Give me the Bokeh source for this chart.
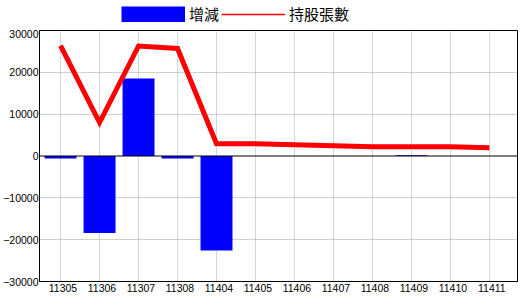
from bokeh.plotting import figure
from bokeh.layouts import column
from bokeh.models import ColumnDataSource, FixedTicker, Legend, LegendItem, Span, Range1d
from bokeh.embed import file_html
from bokeh.resources import INLINE

months = ["11305", "11306", "11307", "11308", "11404", "11405",
          "11406", "11407", "11408", "11409", "11410", "11411"]
change = [-600, -18400, 18500, -600, -22600, 0, 0, 0, 0, 150, 0, 0]
holding = [26400, 8000, 26300, 25700, 2950, 2900, 2680, 2440, 2200, 2200, 2200, 1960]
y_ticks = [-30000, -20000, -10000, 0, 10000, 20000, 30000]
series_names = ["增減", "持股張數"]

BAR_COLOR = "#0000ff"
LINE_COLOR = "#ff0000"

x = list(range(len(months)))
src = ColumnDataSource(dict(x=x, change=change, holding=holding))

# ---- legend strip (its own small figure above the chart) ----
# its ranges are far away from the data so its renderers draw nothing visible
lg = figure(width=520, height=29, output_backend="svg", toolbar_location=None,
            x_axis_type=None, y_axis_type=None,
            x_range=Range1d(1000, 1001), y_range=Range1d(1e6, 1e6 + 1),
            min_border_left=0, min_border_right=0, min_border_top=0, min_border_bottom=0)
lg.outline_line_color = None
lg.xgrid.visible = False
lg.ygrid.visible = False
# a 16px-thick butt-capped line gives a solid 64x16 swatch for the bar series
lg_bar = lg.line(x="x", y="change", source=src, line_color=BAR_COLOR,
                 line_width=16, line_cap="butt")
lg_line = lg.line(x="x", y="holding", source=src, line_color=LINE_COLOR, line_width=1.5)
legend = Legend(items=[LegendItem(label=series_names[0], renderers=[lg_bar]),
                       LegendItem(label=series_names[1], renderers=[lg_line])],
                orientation="horizontal", location=(82, 5),
                glyph_width=64, glyph_height=16, label_height=16,
                label_standoff=4, spacing=2, padding=0, margin=0,
                border_line_color=None, background_fill_alpha=0,
                label_text_font="Noto Sans CJK TC", label_text_font_size="15px",
                label_text_color="black")
lg.add_layout(legend)

# ---- main chart ----
p = figure(width=520, height=271, output_backend="svg", toolbar_location=None,
           x_range=Range1d(-0.54, 11.72), y_range=Range1d(-30000, 30000),
           min_border_left=39, min_border_right=3, min_border_top=1, min_border_bottom=19)
p.background_fill_color = "white"
p.outline_line_color = "black"
p.outline_line_width = 1

p.vbar(x="x", top="change", bottom=0, width=0.82, source=src,
       fill_color=BAR_COLOR, line_color=None)
p.line(x="x", y="holding", source=src, line_color=LINE_COLOR, line_width=5,
       line_join="miter")

p.add_layout(Span(location=0, dimension="width", line_color="black", line_width=1,
                  level="overlay"))

p.xgrid.ticker = FixedTicker(ticks=x)
p.xgrid.grid_line_color = "#8fb4cc"
p.xgrid.grid_line_dash = "1 1"
p.ygrid.ticker = FixedTicker(ticks=[-20000, -10000, 10000, 20000])
p.ygrid.grid_line_color = "#a0a0a0"
p.ygrid.grid_line_dash = "1 1"

offs = 0.0625
xt = [i + offs for i in x]
p.xaxis.ticker = FixedTicker(ticks=xt)
p.xaxis.major_label_overrides = {i + offs: m for i, m in zip(x, months)}
p.xaxis.major_label_text_align = "left"
p.xaxis.major_label_standoff = 2

p.yaxis.ticker = FixedTicker(ticks=y_ticks)
p.yaxis.major_label_standoff = 1

for ax in (p.xaxis, p.yaxis):
    ax.axis_line_color = "black"
    ax.axis_label_standoff = 0
    ax.major_tick_line_color = None
    ax.minor_tick_line_color = None
    ax.major_tick_out = 0
    ax.major_tick_in = 0
    ax.minor_tick_out = 0
    ax.minor_tick_in = 0
    ax.major_label_text_font = "Liberation Sans"
    ax.major_label_text_font_size = "10.5px"
    ax.major_label_text_color = "black"

layout = column(lg, p, spacing=0)
open("out.html", "w").write(file_html(layout, INLINE))
